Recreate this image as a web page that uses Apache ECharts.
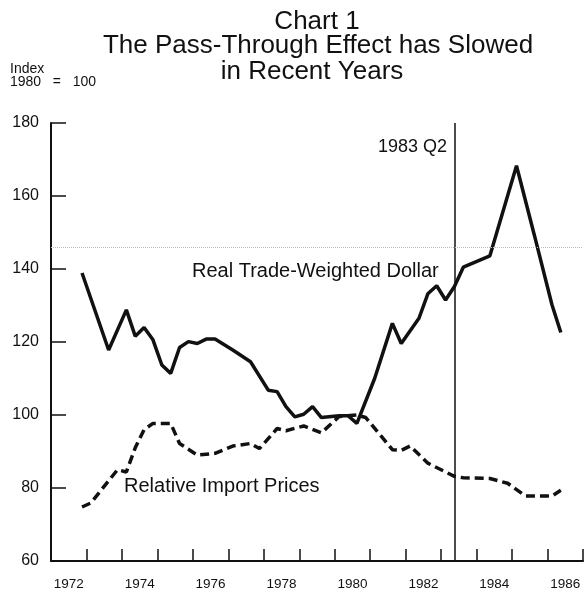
<!DOCTYPE html>
<html>
<head>
<meta charset="utf-8">
<script src="https://cdn.jsdelivr.net/npm/echarts@6/dist/echarts.min.js"></script>
<style>
html, body { margin: 0; padding: 0; background: #fff; }
#chart { width: 584px; height: 592px; }
</style>
</head>
<body>
<div id="chart"></div>
<script>
// year bands on the x axis (labels every other year)
const yearLabels = ['1972', '1973', '1974', '1975', '1976', '1977', '1978', '1979',
  '1980', '1981', '1982', '1983', '1984', '1985', '1986'];

// quarterly points, plotted at mid-quarter
const dollarT = [1972.875, 1973.625, 1974.125, 1974.375, 1974.625, 1974.875, 1975.125, 1975.375,
  1975.625, 1975.875, 1976.125, 1976.375, 1976.625, 1977.125, 1977.625, 1978.125, 1978.375,
  1978.625, 1978.875, 1979.125, 1979.375, 1979.625, 1980.125, 1980.375, 1980.625, 1981.125,
  1981.625, 1981.875, 1982.375, 1982.625, 1982.875, 1983.125, 1983.375, 1983.625, 1984.375,
  1985.125, 1985.625, 1986.125, 1986.375];
const dollarV = [138.9, 117.8, 128.8, 121.6, 124.0, 120.6, 113.7, 111.4,
  118.5, 120.1, 119.6, 120.8, 120.8, 117.8, 114.6, 106.8, 106.4,
  102.3, 99.5, 100.2, 102.3, 99.3, 99.8, 99.8, 97.7, 110.0,
  125.1, 119.6, 126.5, 133.2, 135.4, 131.5, 135.2, 140.5, 143.6,
  168.3, 149.4, 130.2, 122.6];

const importT = [1972.875, 1973.125, 1973.875, 1974.125, 1974.375, 1974.625, 1974.875, 1975.375,
  1975.625, 1976.125, 1976.625, 1977.125, 1977.625, 1977.875, 1978.375, 1978.625, 1979.125,
  1979.625, 1980.125, 1980.625, 1980.875, 1981.625, 1981.875, 1982.125, 1982.625, 1983.375,
  1983.625, 1984.375, 1984.875, 1985.375, 1986.125, 1986.375];
const importV = [74.8, 75.9, 85.0, 84.4, 91.0, 96.0, 97.7, 97.7,
  92.2, 89.0, 89.5, 91.5, 92.2, 90.8, 96.3, 95.7, 97.0,
  95.1, 99.6, 100.0, 99.3, 90.5, 90.3, 91.5, 86.8, 83.2,
  82.8, 82.6, 81.3, 77.8, 77.8, 79.4];

const cutoff = 1983.375;   // 1983 Q2
const scanLine = 146;      // faint dotted line on the scan

const zip = (t, v) => t.map((x, i) => [x, v[i]]);
const font = 'Liberation Sans, Arial, Helvetica, sans-serif';
const ink = '#111';

const chart = echarts.init(document.getElementById('chart'));
chart.setOption({
  animation: false,
  grid: { left: 51, right: 1, top: 123, bottom: 31, containLabel: false },
  graphic: [
    { type: 'text', x: 317, y: 21.5, style: { text: 'Chart 1', fontSize: 26, fontFamily: font, fill: ink, align: 'center', verticalAlign: 'middle' } },
    { type: 'text', x: 318, y: 46, style: { text: 'The Pass-Through Effect has Slowed', fontSize: 26, fontFamily: font, fill: ink, align: 'center', verticalAlign: 'middle' } },
    { type: 'text', x: 312, y: 72, style: { text: 'in Recent Years', fontSize: 26, fontFamily: font, fill: ink, align: 'center', verticalAlign: 'middle' } },
    { type: 'text', x: 10, y: 69.5, style: { text: 'Index', fontSize: 14, fontFamily: font, fill: ink, align: 'left', verticalAlign: 'middle' } },
    { type: 'text', x: 10, y: 82.5, style: { text: '1980   =   100', fontSize: 14, fontFamily: font, fill: ink, align: 'left', verticalAlign: 'middle' } },
    { type: 'text', x: 447, y: 147, style: { text: '1983 Q2', fontSize: 18, fontFamily: font, fill: ink, align: 'right', verticalAlign: 'middle' } },
    { type: 'text', x: 192, y: 271, style: { text: 'Real Trade-Weighted Dollar', fontSize: 20, fontFamily: font, fill: ink, align: 'left', verticalAlign: 'middle' } },
    { type: 'text', x: 124, y: 486.5, style: { text: 'Relative Import Prices', fontSize: 20, fontFamily: font, fill: ink, align: 'left', verticalAlign: 'middle' } }
  ],
  xAxis: [
    {
      type: 'category',
      data: yearLabels,
      boundaryGap: true,
      axisLine: { show: true, lineStyle: { color: ink, width: 2 } },
      axisTick: { show: true, inside: true, length: 12, interval: 0, lineStyle: { color: ink, width: 1.5 } },
      axisLabel: { interval: 1, margin: 16, fontSize: 13.5, fontFamily: font, color: ink },
      splitLine: { show: false }
    },
    { type: 'value', min: 1972, max: 1987, show: false }
  ],
  yAxis: {
    type: 'value',
    min: 60,
    max: 180,
    interval: 20,
    axisLine: { show: true, lineStyle: { color: ink, width: 2 } },
    axisTick: { show: true, inside: true, length: 15, lineStyle: { color: ink, width: 1.5 } },
    axisLabel: { margin: 12, fontSize: 16, fontFamily: font, color: ink },
    splitLine: { show: false }
  },
  series: [
    {
      name: 'Real Trade-Weighted Dollar',
      type: 'line',
      xAxisIndex: 1,
      data: zip(dollarT, dollarV),
      symbol: 'none',
      lineStyle: { color: ink, width: 3.5 },
      markLine: {
        silent: true,
        symbol: ['none', 'none'],
        label: { show: false },
        data: [
          { xAxis: cutoff, lineStyle: { color: ink, width: 1.5, type: 'solid' } },
          { yAxis: scanLine, lineStyle: { color: '#bbb', width: 1, type: 'dotted' } }
        ]
      }
    },
    {
      name: 'Relative Import Prices',
      type: 'line',
      xAxisIndex: 1,
      data: zip(importT, importV),
      symbol: 'none',
      lineStyle: { color: ink, width: 3.5, type: [9, 5] }
    }
  ]
});
</script>
</body>
</html>
